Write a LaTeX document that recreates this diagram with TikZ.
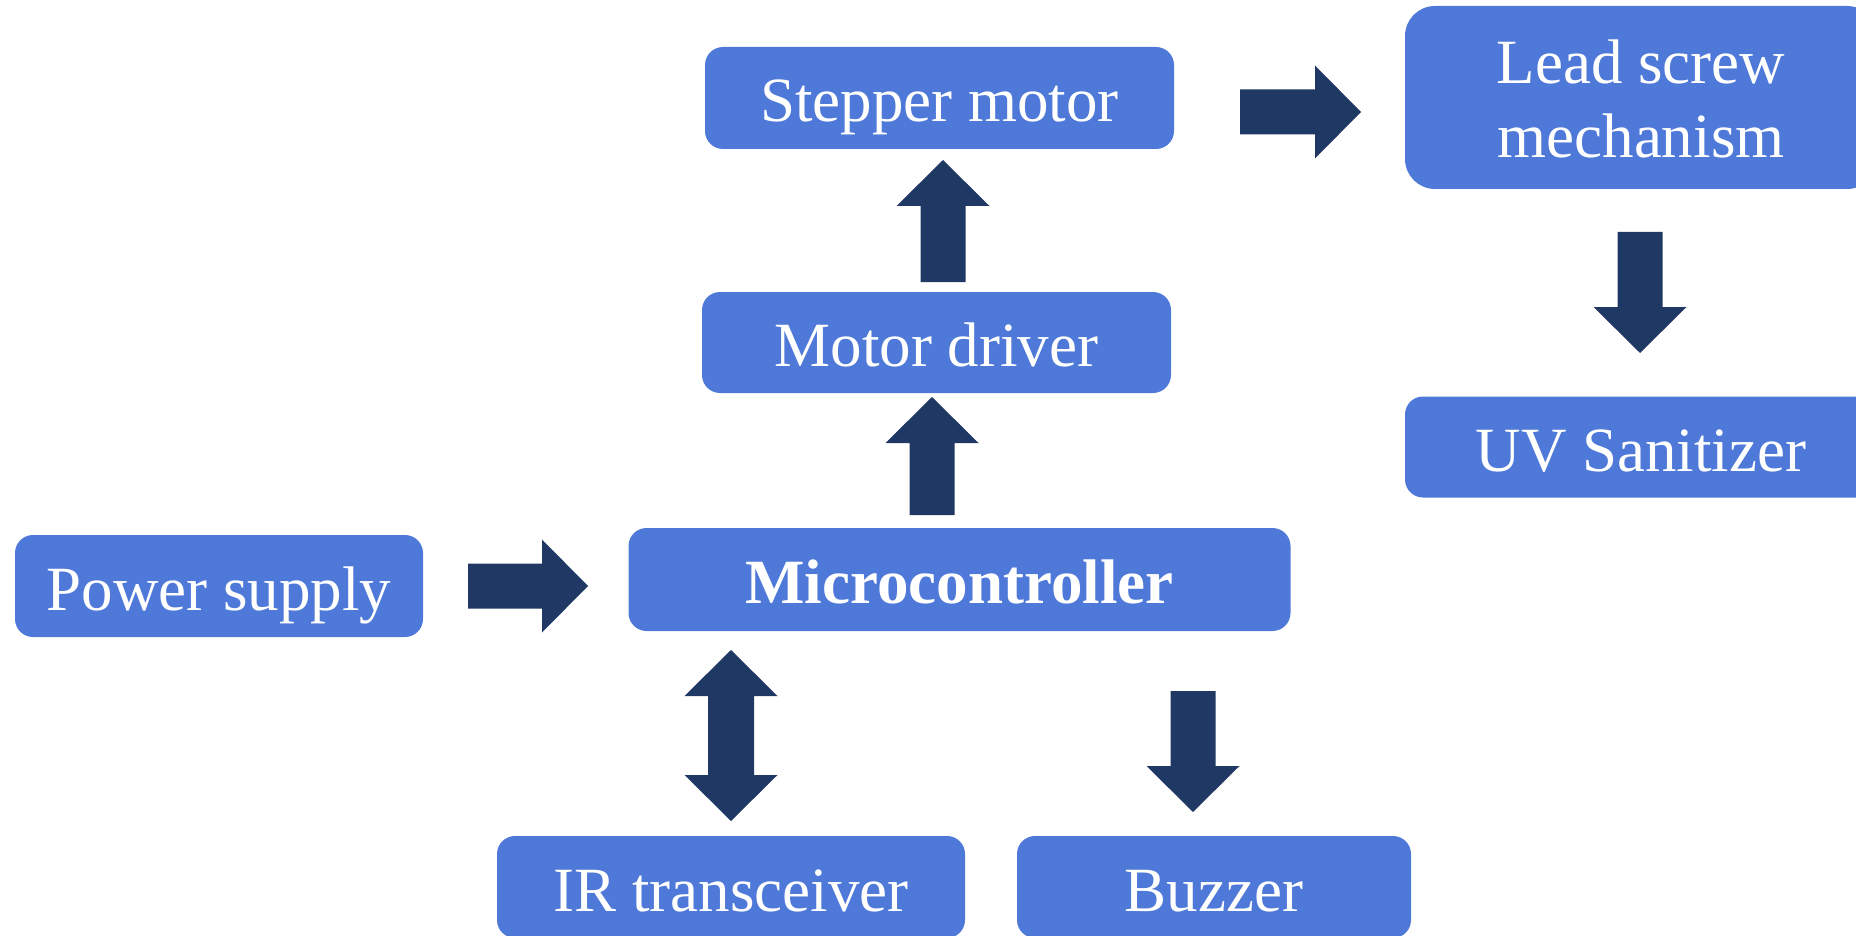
\documentclass[tikz,border=0pt]{standalone}
\usepackage{fontspec}
\setmainfont{Liberation Serif}
\definecolor{boxblue}{RGB}{79,121,216}
\definecolor{arrownavy}{RGB}{32,56,100}
\tikzset{
  blk/.style={fill=boxblue, draw=none, rounded corners=18pt, inner sep=0pt,
    text=white, font=\fontsize{63}{74}\selectfont,
    text height=48pt, text depth=0pt},
  pics/barrow/.style={code={
    \fill[arrownavy] (0,-22.5) -- (#1-46,-22.5) -- (#1-46,-46.5) -- (#1,0)
      -- (#1-46,46.5) -- (#1-46,22.5) -- (0,22.5) -- cycle;}},
  pics/dbarrow/.style={code={
    \fill[arrownavy] (0,0) -- (46,-46.5) -- (46,-23) -- (#1-46,-23) -- (#1-46,-46.5)
      -- (#1,0) -- (#1-46,46.5) -- (#1-46,23) -- (46,23) -- (46,46.5) -- cycle;}}
}
\begin{document}
\begin{tikzpicture}[x=1pt,y=-1pt]
\useasboundingbox (0,0) rectangle (1856,936);
\begin{scope}
\clip (0,0) rectangle (1856,936);
% blocks
\node[blk, minimum width=408pt, minimum height=102pt] (power) at (219,586) {Power supply};
\node[blk, minimum width=662pt, minimum height=103pt] (mcu) at (959.5,579.5) {\bfseries Microcontroller};
\node[blk, minimum width=469pt, minimum height=101pt] (driver) at (936.5,342.5) {Motor driver};
\node[blk, minimum width=469pt, minimum height=102pt] (stepper) at (939.5,98) {Stepper motor};
\node[blk, rounded corners=30pt, minimum width=472pt, minimum height=183pt,
  text height=0pt, text depth=27pt] (lead) at (1641,97.5)
  {\vtop{\baselineskip=74pt\halign{\hfil#\hfil\cr Lead screw\cr mechanism\cr}}};
\node[blk, minimum width=472pt, minimum height=101pt] (uv) at (1641,447) {UV Sanitizer};
\node[blk, minimum width=468pt, minimum height=102pt] (ir) at (731,887) {IR transceiver};
\node[blk, minimum width=394pt, minimum height=102pt] (buzzer) at (1214,887) {Buzzer};
% block arrows
\pic at (468,586) {barrow=120};
\pic[rotate=90] at (932,515) {barrow=118};
\pic[rotate=90] at (943,282) {barrow=122};
\pic at (1240,112) {barrow=121};
\pic[rotate=-90] at (1640,232) {barrow=121};
\pic[rotate=-90] at (1193,691) {barrow=121};
\pic[rotate=-90] at (731,650) {dbarrow=171};
\end{scope}
\end{tikzpicture}
\end{document}
